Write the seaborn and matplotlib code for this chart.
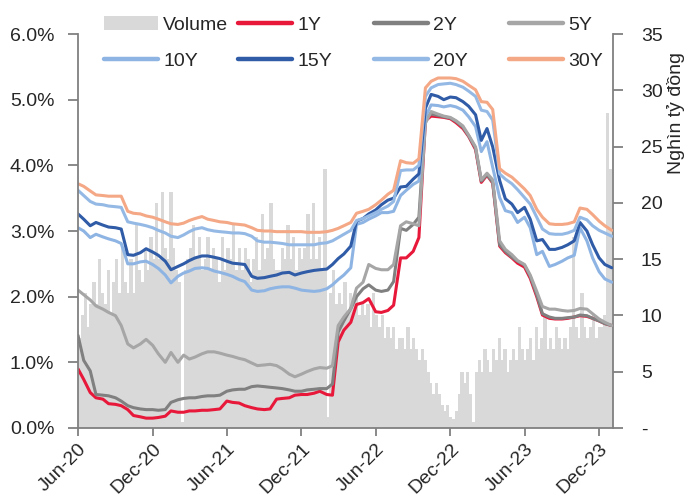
import matplotlib
matplotlib.use("Agg")
import matplotlib.pyplot as plt
import matplotlib.dates as mdates
from matplotlib.lines import Line2D
from matplotlib.patches import Patch
from matplotlib.ticker import FuncFormatter, MultipleLocator
import pandas as pd
import seaborn as sns

# Government bond yields (%), semi-monthly observations from 1 Jun 2020 to 1 Jan 2024
yield_1y = [0.90, 0.74, 0.54, 0.46, 0.44, 0.37, 0.36, 0.34, 0.28, 0.19, 0.17, 0.15, 0.15, 0.16, 0.18,
            0.26, 0.24, 0.24, 0.26, 0.26, 0.27, 0.27, 0.28, 0.29, 0.41, 0.39, 0.38, 0.34, 0.31, 0.29,
            0.28, 0.29, 0.44, 0.45, 0.46, 0.50, 0.51, 0.51, 0.53, 0.56, 0.51, 0.50, 1.31, 1.49, 1.61,
            1.88, 1.91, 1.97, 1.77, 1.76, 1.79, 1.87, 2.59, 2.59, 2.69, 2.90, 4.68, 4.75, 4.74, 4.73,
            4.71, 4.65, 4.56, 4.44, 4.24, 3.74, 3.85, 3.73, 2.77, 2.67, 2.59, 2.51, 2.45, 2.28, 2.00,
            1.72, 1.67, 1.66, 1.66, 1.67, 1.69, 1.71, 1.70, 1.67, 1.63, 1.59, 1.56]
yield_2y = [1.41, 1.03, 0.87, 0.51, 0.50, 0.49, 0.46, 0.41, 0.34, 0.31, 0.29, 0.28, 0.28, 0.27, 0.28,
            0.39, 0.43, 0.45, 0.46, 0.46, 0.48, 0.49, 0.49, 0.50, 0.56, 0.58, 0.59, 0.59, 0.63, 0.64,
            0.63, 0.62, 0.61, 0.60, 0.58, 0.56, 0.56, 0.58, 0.59, 0.60, 0.60, 0.67, 1.46, 1.63, 1.82,
            2.00, 2.12, 2.18, 2.10, 2.08, 2.10, 2.23, 3.04, 3.01, 3.10, 3.21, 4.73, 4.78, 4.76, 4.74,
            4.72, 4.67, 4.58, 4.45, 4.26, 3.76, 3.86, 3.74, 2.79, 2.69, 2.60, 2.54, 2.48, 2.31, 2.03,
            1.74, 1.69, 1.67, 1.67, 1.68, 1.69, 1.72, 1.71, 1.67, 1.63, 1.59, 1.56]
yield_5y = [2.10, 2.03, 1.95, 1.86, 1.81, 1.76, 1.71, 1.56, 1.28, 1.22, 1.28, 1.35, 1.26, 1.13, 1.00,
            1.15, 1.00, 1.11, 1.05, 1.08, 1.13, 1.16, 1.16, 1.14, 1.11, 1.09, 1.06, 1.04, 0.99, 0.95,
            0.96, 0.97, 0.95, 0.90, 0.82, 0.78, 0.82, 0.86, 0.90, 0.92, 0.91, 0.95, 1.56, 1.69, 1.82,
            2.13, 2.22, 2.49, 2.43, 2.41, 2.41, 2.49, 3.08, 3.14, 3.11, 3.08, 4.64, 4.82, 4.78, 4.75,
            4.73, 4.68, 4.60, 4.46, 4.28, 3.78, 3.88, 3.78, 2.85, 2.72, 2.64, 2.55, 2.49, 2.33, 2.08,
            1.85, 1.81, 1.81, 1.79, 1.78, 1.79, 1.82, 1.81, 1.74, 1.66, 1.61, 1.56]
yield_10y = [3.05, 3.00, 2.90, 2.95, 2.91, 2.88, 2.85, 2.81, 2.50, 2.50, 2.53, 2.54, 2.49, 2.43, 2.33,
             2.21, 2.31, 2.36, 2.39, 2.43, 2.44, 2.43, 2.39, 2.37, 2.34, 2.31, 2.26, 2.23, 2.10, 2.08,
             2.09, 2.12, 2.14, 2.15, 2.15, 2.13, 2.10, 2.09, 2.08, 2.09, 2.12, 2.18, 2.26, 2.33, 2.44,
             3.10, 3.13, 3.18, 3.23, 3.28, 3.28, 3.30, 3.54, 3.62, 3.71, 3.76, 4.74, 4.92, 4.91, 4.89,
             4.91, 4.89, 4.84, 4.74, 4.59, 4.21, 4.36, 3.97, 3.51, 3.31, 3.28, 3.13, 3.21, 3.05, 2.64,
             2.69, 2.46, 2.49, 2.54, 2.59, 2.63, 3.05, 2.85, 2.59, 2.38, 2.27, 2.22]
yield_15y = [3.26, 3.18, 3.08, 3.13, 3.09, 3.06, 3.05, 3.03, 2.64, 2.63, 2.67, 2.73, 2.68, 2.63, 2.54,
             2.41, 2.46, 2.50, 2.55, 2.59, 2.62, 2.62, 2.60, 2.58, 2.54, 2.51, 2.50, 2.49, 2.31, 2.28,
             2.29, 2.31, 2.33, 2.36, 2.37, 2.33, 2.36, 2.38, 2.40, 2.41, 2.42, 2.49, 2.58, 2.65, 2.77,
             3.15, 3.19, 3.26, 3.32, 3.40, 3.47, 3.50, 3.67, 3.68, 3.79, 3.87, 4.87, 5.08, 5.05, 5.00,
             5.04, 5.03, 4.97, 4.90, 4.77, 4.38, 4.56, 4.28, 3.77, 3.49, 3.41, 3.28, 3.36, 3.18, 2.85,
             2.87, 2.72, 2.72, 2.75, 2.79, 2.85, 3.13, 3.00, 2.79, 2.59, 2.49, 2.44]
yield_20y = [3.62, 3.54, 3.45, 3.41, 3.40, 3.38, 3.37, 3.36, 3.14, 3.12, 3.10, 3.08, 3.05, 3.01, 2.97,
             2.92, 2.90, 2.94, 2.99, 3.03, 3.05, 3.02, 3.00, 2.99, 2.98, 2.97, 2.97, 2.96, 2.92, 2.85,
             2.83, 2.83, 2.82, 2.81, 2.79, 2.79, 2.79, 2.79, 2.79, 2.81, 2.82, 2.85, 2.90, 2.95, 3.01,
             3.16, 3.19, 3.23, 3.28, 3.33, 3.38, 3.45, 3.92, 3.93, 3.93, 4.00, 5.05, 5.18, 5.23, 5.24,
             5.25, 5.23, 5.19, 5.13, 5.05, 4.84, 4.82, 4.69, 3.87, 3.79, 3.72, 3.63, 3.51, 3.41, 3.21,
             3.03, 2.96, 2.95, 2.95, 2.97, 3.01, 3.21, 3.17, 3.08, 3.01, 2.97, 2.92]
yield_30y = [3.72, 3.68, 3.61, 3.55, 3.54, 3.53, 3.53, 3.53, 3.30, 3.27, 3.26, 3.23, 3.21, 3.18, 3.14,
             3.11, 3.10, 3.12, 3.16, 3.19, 3.22, 3.18, 3.16, 3.14, 3.13, 3.11, 3.10, 3.09, 3.05, 3.01,
             3.00, 3.00, 2.99, 2.99, 2.99, 2.99, 2.99, 2.98, 2.98, 2.98, 2.99, 3.01, 3.04, 3.08, 3.13,
             3.27, 3.30, 3.33, 3.40, 3.47, 3.56, 3.62, 4.07, 4.04, 4.03, 4.10, 5.18, 5.28, 5.33, 5.33,
             5.33, 5.32, 5.28, 5.22, 5.15, 4.97, 4.96, 4.85, 3.95, 3.88, 3.82, 3.74, 3.64, 3.54, 3.33,
             3.21, 3.11, 3.10, 3.10, 3.11, 3.14, 3.35, 3.33, 3.25, 3.15, 3.08, 3.01]

# Weekly trading volume (thousand billion VND), weeks starting 1 Jun 2020
volume = [
    8, 10, 12, 9, 11,
    13, 11, 15, 12,
    11, 14, 10, 13, 15,
    12, 16, 13, 12,
    15, 12, 18, 14,
    13, 16, 14, 17, 15,
    20, 15, 21, 16,
    15, 21, 16, 14,
    13, 0.5, 14, 15,
    16, 18, 15, 17, 14,
    15, 17, 14, 16,
    15, 13, 17, 14, 16,
    15, 18, 14, 16,
    14, 16, 15, 13,
    15, 17, 14, 19, 15,
    16, 20, 15, 14,
    14, 16, 15, 18,
    15, 17, 14, 16, 15,
    16, 19, 15, 20,
    15, 17, 14, 23, 1,
    12, 14, 11, 12,
    11, 13, 10, 12,
    11, 12, 10, 11,
    10, 11, 9, 12, 10,
    9, 10, 8, 9,
    8, 9, 7, 8,
    8, 7, 9, 7, 8,
    7, 6, 7, 6,
    5, 4, 3, 4, 3,
    2, 1.5, 2, 1,
    0.8, 1.5, 3, 5,
    4, 5, 3, 0.5, 5,
    6, 5, 7, 6,
    5, 7, 6, 8,
    6, 7, 5, 6,
    7, 6, 9, 7, 6,
    7, 8, 6, 9,
    7, 8, 10, 7, 8,
    7, 9, 8, 7,
    8, 7, 9, 17,
    9, 8, 12, 9, 8,
    9, 10, 8, 9,
    9, 10, 28, 23,
    9,
]

tenors = ["1Y", "2Y", "5Y", "10Y", "15Y", "20Y", "30Y"]
colors = ["#E8183A", "#808080", "#A6A6A6", "#8EB4E3", "#2F5BA7", "#95B9E5", "#F4A886"]
vol_color = "#D9D9D9"
axis_color = "#808080"

sns.set_style("ticks")
plt.rcParams["font.family"] = ["Liberation Sans Narrow", "Liberation Sans", "DejaVu Sans"]
FS = 14

dates = pd.date_range("2020-06-01", periods=len(yield_1y), freq="SMS")
yields = pd.DataFrame({"date": dates, "1Y": yield_1y, "2Y": yield_2y, "5Y": yield_5y,
                       "10Y": yield_10y, "15Y": yield_15y, "20Y": yield_20y, "30Y": yield_30y})
long = yields.melt(id_vars="date", var_name="tenor", value_name="yield")
vol_dates = pd.date_range("2020-06-01", periods=len(volume), freq="7D")

W, H = 687, 496
fig = plt.figure(figsize=(W / 100, H / 100), dpi=100)
ax = fig.add_axes([78 / W, 1 - 428 / H, (613 - 78) / W, (428 - 34) / H])
ax_vol = ax.twinx()
ax.set_zorder(ax_vol.get_zorder() + 1)
ax.patch.set_visible(False)

# volume bars on the right axis
ax_vol.bar(vol_dates, volume, width=8, align="edge", color=vol_color, linewidth=0)

# yield curves on the left axis
sns.lineplot(data=long, x="date", y="yield", hue="tenor", hue_order=tenors,
             palette=dict(zip(tenors, colors)), linewidth=2.2, legend=False, ax=ax)

ax.set_xlim(pd.Timestamp("2020-06-01"), pd.Timestamp("2024-01-04"))
ax.set_ylim(0, 6)
ax_vol.set_ylim(0, 35)
ax.yaxis.set_major_locator(MultipleLocator(1))
ax.yaxis.set_major_formatter(FuncFormatter(lambda v, p: f"{v:.1f}%"))
ax_vol.yaxis.set_major_locator(MultipleLocator(5))
ax_vol.yaxis.set_major_formatter(FuncFormatter(lambda v, p: "-" if abs(v) < 1e-9 else f"{v:.0f}"))

ax.set_xticks(pd.date_range("2020-06-01", "2023-12-01", freq="6MS"))
ax.xaxis.set_major_formatter(mdates.DateFormatter("%b-%y"))
ax.set_xlabel("")
ax.set_ylabel("")

for a in (ax, ax_vol):
    for s in a.spines.values():
        s.set_color(axis_color)
        s.set_linewidth(1.3)
    a.spines["top"].set_visible(False)
ax.spines["right"].set_visible(False)
ax_vol.spines["left"].set_visible(False)
ax_vol.spines["bottom"].set_visible(False)

ax.tick_params(axis="y", direction="out", length=7, width=1.3, color=axis_color,
               labelsize=FS, pad=10)
ax.tick_params(axis="x", direction="out", length=6, width=1.3, color=axis_color,
               labelsize=FS, pad=3)
ax_vol.tick_params(axis="y", direction="out", length=7, width=1.3, color=axis_color,
                   labelsize=FS, pad=13)
for lbl in ax.get_xticklabels():
    lbl.set_rotation(45)
    lbl.set_ha("right")
    lbl.set_rotation_mode("anchor")

ax_vol.set_ylabel("Nghìn tỷ đồng", fontsize=FS)
ax_vol.yaxis.set_label_coords((667 - 78) / (613 - 78), 0.80)

# legend laid out as four fixed-width columns
entries = [Patch(facecolor=vol_color, edgecolor="none")] + \
          [Line2D([0], [0], color=c, linewidth=3.2) for c in colors]
labels = ["Volume"] + tenors
col_x = [104, 238, 374, 509]
for i, x in enumerate(col_x):
    fig.legend([entries[i], entries[i + 4]], [labels[i], labels[i + 4]],
               loc="center left", bbox_to_anchor=(x / W, 1 - 43 / H),
               bbox_transform=fig.transFigure, frameon=False, fontsize=FS,
               handlelength=2.8, handleheight=0.75, handletextpad=0.25,
               labelspacing=0.95, borderpad=0, borderaxespad=0)

fig.savefig("out.png", dpi=100)
